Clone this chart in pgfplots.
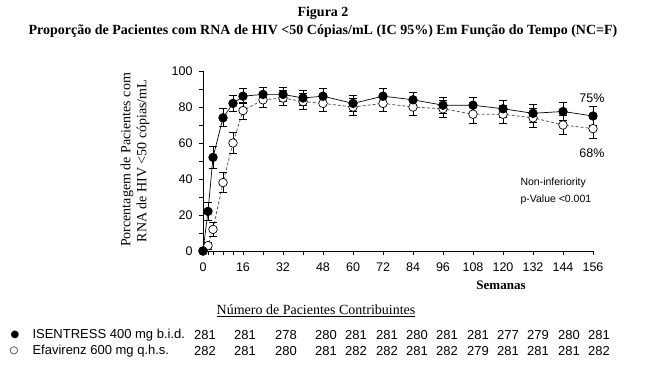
\documentclass[border=0pt]{standalone}
\usepackage{fontspec}
\setmainfont{Liberation Serif}
\setsansfont{Liberation Sans}
\newfontfamily\symfont{DejaVu Sans}
\usepackage{pgfplots}
\pgfplotsset{compat=1.18}
\usepackage{pgfplotstable}

\pgfplotstableread{
x y e
0 0 0
2 22 5
4 52 6
8 74 5
12 82 4.5
16 86 4.1
24 87 3.9
32 87 4
40 85 4.2
48 86 4.1
60 82 4.5
72 86 4.1
84 84 4.3
96 81 4.6
108 81 4.6
120 79 4.8
132 76.5 4.9
144 77.5 4.9
156 75 5.1
}\isen

\pgfplotstableread{
x y e
0 0 0
2 3 2
4 12 3.8
8 38 5.7
12 60 5.7
16 78 4.8
24 84 4.3
32 85 4.2
40 83 4.4
48 82 4.5
60 80 4.7
72 82 4.5
84 80 4.7
96 79 4.8
108 76 5
120 76 5
132 74 5.1
144 70 5.4
156 68 5.4
}\efa

\begin{document}
\begin{tikzpicture}[x=1pt,y=1pt]
\path[use as bounding box] (0pt,0pt) rectangle (649pt,372pt);
\begin{axis}[at={(203pt,121pt)}, anchor=south west, scale only axis,
  width=390pt, height=180pt,
  xmin=0, xmax=156, ymin=0, ymax=100,
  axis x line*=bottom, axis y line*=left,
  axis line style={line width=0.8pt, -},
  clip=false,
  xtick={0,2,4,8,12,16,24,32,40,48,60,72,84,96,108,120,132,144,156},
  xticklabels={0,,,,,16,,32,,48,60,72,84,96,108,120,132,144,156},
  ytick={0,10,...,100},
  yticklabels={0,,20,,40,,60,,80,,100},
  tick style={black, line width=0.7pt},
  tick align=outside, major tick length=4pt,
  ticklabel style={font=\sffamily\fontsize{12.5}{14}\selectfont},
  xticklabel style={yshift=-4pt},
  yticklabel style={xshift=-3pt},
  /pgf/number format/assume math mode=true,
]
\addplot[black!65, dash pattern=on 3pt off 2pt, line width=0.8pt,
  mark=*, mark size=4.3pt,
  mark options={solid, fill=white, draw=black, line width=0.7pt},
  error bars/.cd, y dir=both, y explicit,
  error bar style={solid, black, line width=0.8pt},
  error mark options={rotate=90, mark size=3.6pt, black, line width=0.8pt}]
  table[x=x, y=y, y error=e] {\efa};
\addplot[black, line width=0.7pt,
  mark=*, mark size=4.3pt,
  mark options={solid, fill=black, draw=black},
  error bars/.cd, y dir=both, y explicit,
  error bar style={solid, black, line width=0.8pt},
  error mark options={rotate=90, mark size=3.6pt, black, line width=0.8pt}]
  table[x=x, y=y, y error=e] {\isen};
\end{axis}

% titles
\node[font=\bfseries\fontsize{14}{16}\selectfont, anchor=base] at (323pt,355pt) {Figura 2};
\node[font=\bfseries\fontsize{14}{16}\selectfont, anchor=base] at (323pt,337pt) {Proporção de Pacientes com RNA de HIV <50 Cópias/mL (IC 95\%) Em Função do Tempo (NC=F)};
% y label
\node[font=\fontsize{14}{16}\selectfont, rotate=90] at (127pt,212pt) {Porcentagem de Pacientes com};
\node[font=\fontsize{14}{16}\selectfont, rotate=90] at (143pt,211pt) {RNA de HIV <50 cópias/mL};
% x label
\node[font=\bfseries\fontsize{13}{15}\selectfont] at (501pt,87pt) {Semanas};
% annotations
\node[font=\sffamily\fontsize{12.5}{14}\selectfont] at (592pt,274pt) {75\%};
\node[font=\sffamily\fontsize{12.5}{14}\selectfont] at (592pt,219pt) {68\%};
\node[font=\sffamily\fontsize{10.5}{12}\selectfont, anchor=west] at (517pt,189pt) {Non-inferiority};
\node[font=\sffamily\fontsize{10.5}{12}\selectfont, anchor=west] at (517pt,172pt) {p-Value <0.001};
% table
\node[font=\fontsize{14}{16}\selectfont] at (316pt,61pt) {\underline{Número de Pacientes Contribuintes}};
\node[font=\symfont\fontsize{10}{12}\selectfont] at (15pt,37pt) {●};
\node[font=\symfont\fontsize{10}{12}\selectfont] at (14pt,21pt) {○};
\node[font=\sffamily\fontsize{13}{15}\selectfont, anchor=west] at (29pt,37pt) {ISENTRESS 400 mg b.i.d.};
\node[font=\sffamily\fontsize{13}{15}\selectfont, anchor=west] at (29pt,21pt) {Efavirenz 600 mg q.h.s.};
\foreach \xx/\a/\b in {205/281/282, 245/281/281, 286/278/280, 326/280/281, 356/281/282, 387/281/282, 417/280/281, 447/281/282, 478/281/279, 508/277/281, 538/279/281, 569/280/281, 599/281/282}{
  \node[font=\sffamily\fontsize{13}{15}\selectfont] at (\xx pt,37pt) {\a};
  \node[font=\sffamily\fontsize{13}{15}\selectfont] at (\xx pt,21pt) {\b};
}
\end{tikzpicture}
\end{document}
